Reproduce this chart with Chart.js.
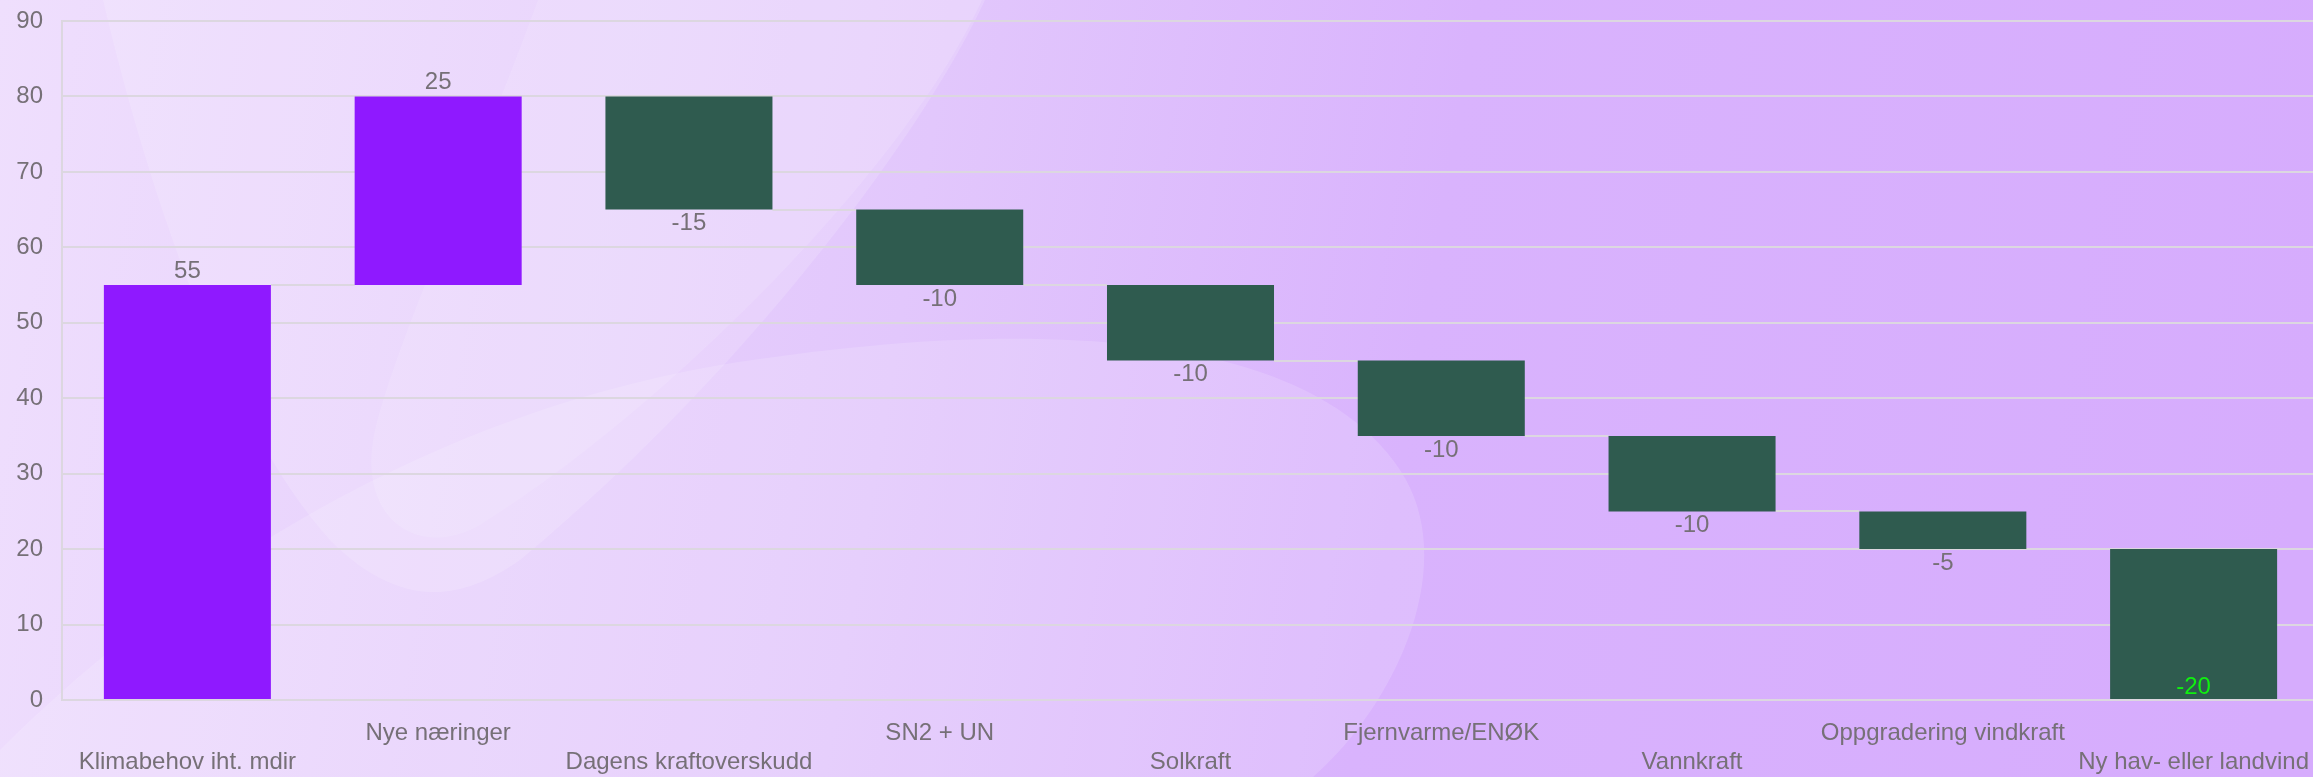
<!DOCTYPE html>
<html><head><meta charset="utf-8">
<script src="https://cdn.jsdelivr.net/npm/chart.js@4.4.1/dist/chart.umd.min.js"></script>
<style>
html,body{margin:0;padding:0;overflow:hidden;background:#e0c4fc}
#wrap{width:2313px;height:777px;position:relative;overflow:hidden}
#c{display:block}
</style></head><body>
<div id="wrap"><canvas id="c" width="2319" height="777"></canvas></div>
<script>
// ---- data ----
const categories = ['Klimabehov iht. mdir','Nye næringer','Dagens kraftoverskudd','SN2 + UN','Solkraft','Fjernvarme/ENØK','Vannkraft','Oppgradering vindkraft','Ny hav- eller landvind'];
const changes = [55, 25, -15, -10, -10, -10, -10, -5, -20];
const yTickValues = [0, 10, 20, 30, 40, 50, 60, 70, 80, 90];

// ---- derived floating ranges ----
const ranges = [];
const ends = [];
let run = 0;
changes.forEach(v => { ranges.push([run, run + v]); run += v; ends.push(run); });

const FONT = '"Liberation Sans", Arial, sans-serif';
const TXT = '#767077';
const GRID = '#dcd7e0';
const UP = '#8f19ff';
const DOWN = '#2f5b4f';

const bgPlugin = {
  id: 'bg',
  beforeDraw(chart) {
    const ctx = chart.ctx, W = chart.width, H = chart.height;
    ctx.save();
    const g = ctx.createLinearGradient(0, 0, W, H * 0.5);
    g.addColorStop(0, '#efdffd');
    g.addColorStop(0.4, '#e2c7fc');
    g.addColorStop(0.62, '#d9b3fd');
    g.addColorStop(1, '#d6acfd');
    ctx.fillStyle = g;
    ctx.fillRect(0, 0, W, H);
    // large wedge
    ctx.fillStyle = 'rgba(255,255,255,0.15)';
    ctx.beginPath();
    ctx.moveTo(103, 0);
    ctx.bezierCurveTo(150, 200, 230, 430, 330, 540);
    ctx.bezierCurveTo(390, 600, 450, 610, 520, 560);
    ctx.bezierCurveTo(760, 360, 930, 120, 985, 0);
    ctx.closePath();
    ctx.fill();
    // inner wedge
    ctx.fillStyle = 'rgba(255,255,255,0.12)';
    ctx.beginPath();
    ctx.moveTo(538, 0);
    ctx.bezierCurveTo(480, 160, 400, 330, 375, 430);
    ctx.bezierCurveTo(355, 520, 420, 560, 480, 525);
    ctx.bezierCurveTo(650, 420, 900, 180, 982, 0);
    ctx.closePath();
    ctx.fill();
    // big light lobe at the bottom
    ctx.fillStyle = 'rgba(255,255,255,0.15)';
    ctx.beginPath();
    ctx.moveTo(0, 750);
    ctx.bezierCurveTo(150, 600, 400, 420, 720, 365);
    ctx.bezierCurveTo(1000, 320, 1300, 320, 1400, 470);
    ctx.bezierCurveTo(1460, 560, 1400, 700, 1313, 777);
    ctx.lineTo(0, 777);
    ctx.closePath();
    ctx.fill();
    ctx.restore();
  }
};

const connectorPlugin = {
  id: 'connectors',
  beforeDatasetsDraw(chart) {
    const meta = chart.getDatasetMeta(0);
    const ys = chart.scales.y;
    const ctx = chart.ctx;
    ctx.save();
    ctx.strokeStyle = GRID;
    ctx.lineWidth = 2;
    for (let i = 0; i < meta.data.length - 1; i++) {
      const a = meta.data[i], b = meta.data[i + 1];
      const y = Math.round(ys.getPixelForValue(ends[i]));
      ctx.beginPath();
      ctx.moveTo(a.x + a.width / 2, y);
      ctx.lineTo(b.x - b.width / 2, y);
      ctx.stroke();
    }
    ctx.restore();
  }
};

const labelPlugin = {
  id: 'valueLabels',
  afterDatasetsDraw(chart) {
    const meta = chart.getDatasetMeta(0);
    const ctx = chart.ctx;
    const area = chart.chartArea;
    ctx.save();
    ctx.font = '24px ' + FONT;
    ctx.textAlign = 'center';
    ctx.textBaseline = 'middle';
    meta.data.forEach((bar, i) => {
      const v = changes[i];
      const top = Math.min(bar.y, bar.base), bottom = Math.max(bar.y, bar.base);
      let y, col = TXT;
      if (v >= 0) { y = top - 14; }
      else if (bottom + 30 > area.bottom) { y = bottom - 12; col = '#10f010'; }
      else { y = bottom + 14; }
      ctx.fillStyle = col;
      ctx.fillText(String(v), bar.x, y);
    });
    ctx.restore();
  }
};

new Chart(document.getElementById('c'), {
  type: 'bar',
  data: {
    labels: categories,
    datasets: [{
      data: ranges,
      backgroundColor: changes.map(v => v >= 0 ? UP : DOWN),
      borderWidth: 0,
      barPercentage: 0.666,
      categoryPercentage: 1
    }]
  },
  options: {
    responsive: false,
    animation: false,
    devicePixelRatio: 1,
    layout: { padding: { left: 0, top: 21, right: 0, bottom: 0 } },
    plugins: { legend: { display: false }, tooltip: { enabled: false } },
    scales: {
      x: {
        grid: { display: false, drawTicks: true, tickLength: 19 },
        border: { display: false },
        afterFit: s => { s.height = 77; s.paddingLeft = 0; s.paddingRight = 0; },
        ticks: {
          autoSkip: false, maxRotation: 0, minRotation: 0, padding: 0,
          color: TXT, font: { family: FONT, size: 24 },
          callback: (v, i) => i % 2 === 0 ? ['', categories[i]] : [categories[i], '']
        }
      },
      y: {
        min: 0, max: 90,
        afterBuildTicks: s => { s.ticks = yTickValues.map(v => ({ value: v })); },
        afterFit: s => { s.width = 62; },
        grid: { color: GRID, lineWidth: 2, drawTicks: true, tickLength: 19, tickColor: 'rgba(0,0,0,0)' },
        border: { display: true, color: GRID, width: 2 },
        ticks: { padding: 0, color: TXT, font: { family: FONT, size: 24 } }
      }
    }
  },
  plugins: [bgPlugin, connectorPlugin, labelPlugin]
});
</script>
</body></html>
